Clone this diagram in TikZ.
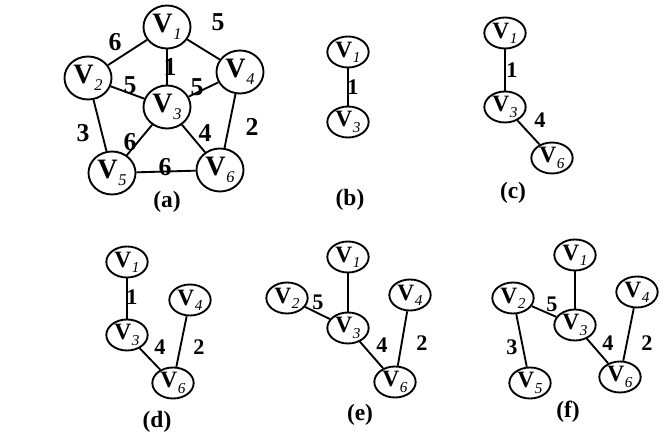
\documentclass[tikz,border=0pt]{standalone}
\usepackage{fontspec}
\setmainfont{Liberation Serif}
\usetikzlibrary{shapes.geometric}

\newcommand{\Vbig}[1]{{\fontsize{24}{24}\selectfont\bfseries V}\kern0.5pt\raisebox{-5.5pt}{\fontsize{14}{14}\selectfont\itshape #1}}
\newcommand{\Vsm}[1]{{\fontsize{20}{20}\selectfont\bfseries V}\kern0.5pt\raisebox{-4.5pt}{\fontsize{13}{13}\selectfont\itshape #1}}

\begin{document}
\begin{tikzpicture}[
    vbig/.style={draw, ellipse, line width=1.6pt, minimum width=1.41cm, minimum height=1.29cm, inner sep=0pt},
    vsmall/.style={draw, ellipse, line width=1.6pt, minimum width=1.24cm, minimum height=0.93cm, inner sep=0pt},
    link/.style={line width=1.6pt},
    wt/.style={font=\fontsize{19}{19}\selectfont\bfseries},
    wtbig/.style={font=\fontsize{22}{22}\selectfont\bfseries},
    figlabel/.style={font=\fontsize{20}{20}\selectfont\bfseries}
]
    \useasboundingbox (0,0) rectangle (19.98,13.08);

    % (a) Weighted graph
    \node[vbig] (a1) at (5.01,12.27) {\Vbig{1}};
    \node[vbig] (a2) at (2.64,10.74) {\Vbig{2}};
    \node[vbig] (a3) at (5.01,9.87) {\Vbig{3}};
    \node[vbig] (a4) at (7.20,10.92) {\Vbig{4}};
    \node[vbig] (a5) at (3.36,7.89) {\Vbig{5}};
    \node[vbig] (a6) at (6.60,7.98) {\Vbig{6}};
    \draw[link] (a1) -- (a2);
    \draw[link] (a1) -- (a4);
    \draw[link] (a1) -- (a3);
    \draw[link] (a2) -- (a3);
    \draw[link] (a3) -- (a4);
    \draw[link] (a2) -- (a5);
    \draw[link] (a3) -- (a5);
    \draw[link] (a3) -- (a6);
    \draw[link] (a4) -- (a6);
    \draw[link] (a5) -- (a6);
    \node[wtbig] (wa14) at (6.54,12.42) {5};
    \node[wtbig] (wa12) at (3.45,11.82) {6};
    \node[wtbig] (wa13) at (5.10,11.07) {1};
    \node[wtbig] (wa23) at (3.90,10.53) {5};
    \node[wtbig] (wa34) at (5.91,10.47) {5};
    \node[wtbig] (wa25) at (2.49,9.09) {3};
    \node[wtbig] (wa35) at (3.90,8.82) {6};
    \node[wtbig] (wa36) at (6.15,9.09) {4};
    \node[wtbig] (wa46) at (7.56,9.27) {2};
    \node[wtbig] (wa56) at (4.95,8.07) {6};
    \node[figlabel] (capa) at (5.01,7.02) {(a)};

    % (b)
    \node[vsmall] (b1) at (10.44,11.52) {\Vsm{1}};
    \node[vsmall] (b3) at (10.44,9.42) {\Vsm{3}};
    \draw[link] (b1) -- (b3);
    \node[wt] (wb13) at (10.59,10.47) {1};
    \node[figlabel] (capb) at (10.50,7.08) {(b)};

    % (c)
    \node[vsmall] (c1) at (15.15,12.09) {\Vsm{1}};
    \node[vsmall] (c3) at (15.15,9.87) {\Vsm{3}};
    \node[vsmall] (c6) at (16.56,8.34) {\Vsm{6}};
    \draw[link] (c1) -- (c3);
    \draw[link] (c3) -- (c6);
    \node[wt] (wc13) at (15.36,10.98) {1};
    \node[wt] (wc36) at (16.20,9.48) {4};
    \node[figlabel] (capc) at (15.39,7.29) {(c)};

    % (d)
    \node[vsmall] (d1) at (3.81,5.22) {\Vsm{1}};
    \node[vsmall] (d3) at (3.81,3.03) {\Vsm{3}};
    \node[vsmall] (d4) at (5.70,4.08) {\Vsm{4}};
    \node[vsmall] (d6) at (5.19,1.59) {\Vsm{6}};
    \draw[link] (d1) -- (d3);
    \draw[link] (d3) -- (d6);
    \draw[link] (d4) -- (d6);
    \node[wt] (wd13) at (3.96,4.17) {1};
    \node[wt] (wd36) at (4.80,2.67) {4};
    \node[wt] (wd46) at (5.97,2.67) {2};
    \node[figlabel] (capd) at (4.71,0.42) {(d)};

    % (e)
    \node[vsmall] (e1) at (10.44,5.37) {\Vsm{1}};
    \node[vsmall] (e2) at (8.61,4.14) {\Vsm{2}};
    \node[vsmall] (e3) at (10.44,3.24) {\Vsm{3}};
    \node[vsmall] (e4) at (12.30,4.23) {\Vsm{4}};
    \node[vsmall] (e6) at (11.85,1.62) {\Vsm{6}};
    \draw[link] (e1) -- (e3);
    \draw[link] (e2) -- (e3);
    \draw[link] (e3) -- (e6);
    \draw[link] (e4) -- (e6);
    \node[wt] (we23) at (9.54,4.02) {5};
    \node[wt] (we36) at (11.46,2.73) {4};
    \node[wt] (we46) at (12.66,2.79) {2};
    \node[figlabel] (cape) at (10.80,0.63) {(e)};

    % (f)
    \node[vsmall] (f1) at (17.25,5.43) {\Vsm{1}};
    \node[vsmall] (f2) at (15.39,4.14) {\Vsm{2}};
    \node[vsmall] (f3) at (17.25,3.33) {\Vsm{3}};
    \node[vsmall] (f4) at (19.11,4.32) {\Vsm{4}};
    \node[vsmall] (f5) at (15.90,1.59) {\Vsm{5}};
    \node[vsmall] (f6) at (18.60,1.77) {\Vsm{6}};
    \draw[link] (f1) -- (f3);
    \draw[link] (f2) -- (f3);
    \draw[link] (f2) -- (f5);
    \draw[link] (f3) -- (f6);
    \draw[link] (f4) -- (f6);
    \node[wt] (wf23) at (16.56,3.96) {5};
    \node[wt] (wf25) at (15.36,2.67) {3};
    \node[wt] (wf36) at (18.24,2.79) {4};
    \node[wt] (wf46) at (19.41,2.79) {2};
    \node[figlabel] (capf) at (17.04,0.72) {(f)};
\end{tikzpicture}
\end{document}
